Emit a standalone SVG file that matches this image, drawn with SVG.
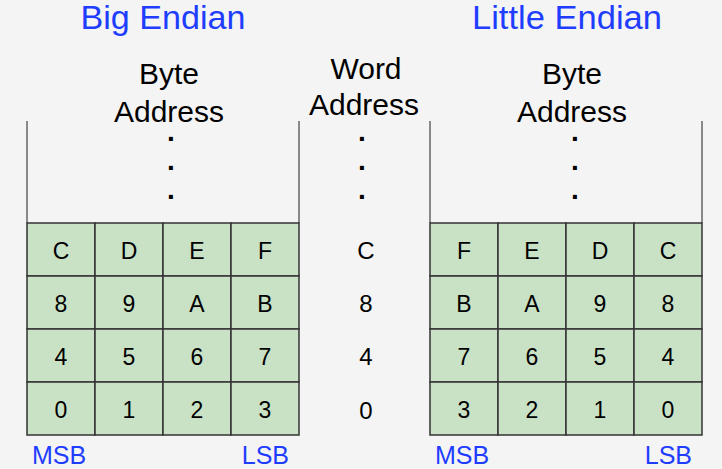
<svg xmlns="http://www.w3.org/2000/svg" width="722" height="469" viewBox="0 0 722 469">
  <style>
    text { font-family: "Liberation Sans", Arial, sans-serif; text-anchor: middle; }
    .title { font-size: 33px; fill: #1f3dff; }
    .head { font-size: 30px; fill: #000; }
    .dot { font-size: 28px; font-weight: bold; fill: #000; }
    .cell { font-size: 23px; fill: #000; }
    .word { font-size: 24px; fill: #000; }
    .bit { font-size: 25px; fill: #1f3dff; text-anchor: start; }
    .bitr { font-size: 25px; fill: #1f3dff; text-anchor: end; }
    .box { fill: #c9e2c6; stroke: #333; stroke-width: 1.5; }
    .side { stroke: #666; stroke-width: 1.5; fill: none; }
  </style>
  <rect width="722" height="469" fill="#f4f4f4"/>

  <!-- Big endian memory -->
  <g id="big-endian">
    <text class="title" x="163" y="29" textLength="165" lengthAdjust="spacingAndGlyphs">Big Endian</text>
    <text class="head" x="169" y="84">Byte</text>
    <text class="head" x="169" y="122">Address</text>
    <text class="dot" x="171" y="141">.</text>
    <text class="dot" x="171" y="170">.</text>
    <text class="dot" x="171" y="199">.</text>
    <path class="side" d="M27 121V223M299 121V223"/>
    <g>
      <rect class="box" x="27" y="223" width="68" height="53"/>
      <rect class="box" x="95" y="223" width="68" height="53"/>
      <rect class="box" x="163" y="223" width="68" height="53"/>
      <rect class="box" x="231" y="223" width="68" height="53"/>
      <rect class="box" x="27" y="276" width="68" height="53"/>
      <rect class="box" x="95" y="276" width="68" height="53"/>
      <rect class="box" x="163" y="276" width="68" height="53"/>
      <rect class="box" x="231" y="276" width="68" height="53"/>
      <rect class="box" x="27" y="329" width="68" height="53"/>
      <rect class="box" x="95" y="329" width="68" height="53"/>
      <rect class="box" x="163" y="329" width="68" height="53"/>
      <rect class="box" x="231" y="329" width="68" height="53"/>
      <rect class="box" x="27" y="382" width="68" height="53"/>
      <rect class="box" x="95" y="382" width="68" height="53"/>
      <rect class="box" x="163" y="382" width="68" height="53"/>
      <rect class="box" x="231" y="382" width="68" height="53"/>
    </g>
    <g>
      <text class="cell" x="61" y="259">C</text>
      <text class="cell" x="129" y="259">D</text>
      <text class="cell" x="197" y="259">E</text>
      <text class="cell" x="265" y="259">F</text>
      <text class="cell" x="61" y="312">8</text>
      <text class="cell" x="129" y="312">9</text>
      <text class="cell" x="197" y="312">A</text>
      <text class="cell" x="265" y="312">B</text>
      <text class="cell" x="61" y="365">4</text>
      <text class="cell" x="129" y="365">5</text>
      <text class="cell" x="197" y="365">6</text>
      <text class="cell" x="265" y="365">7</text>
      <text class="cell" x="61" y="418">0</text>
      <text class="cell" x="129" y="418">1</text>
      <text class="cell" x="197" y="418">2</text>
      <text class="cell" x="265" y="418">3</text>
    </g>
    <text class="bit" x="32" y="464">MSB</text>
    <text class="bitr" x="289" y="464">LSB</text>
  </g>

  <!-- Word addresses -->
  <g id="word-address">
    <text class="head" x="366" y="79">Word</text>
    <text class="head" x="364" y="115">Address</text>
    <text class="dot" x="362" y="141">.</text>
    <text class="dot" x="362" y="170">.</text>
    <text class="dot" x="362" y="199">.</text>
    <text class="word" x="366" y="259">C</text>
    <text class="word" x="366" y="312">8</text>
    <text class="word" x="366" y="365">4</text>
    <text class="word" x="366" y="419">0</text>
  </g>

  <!-- Little endian memory -->
  <g id="little-endian">
    <text class="title" x="567" y="29" textLength="190" lengthAdjust="spacingAndGlyphs">Little Endian</text>
    <text class="head" x="572" y="84">Byte</text>
    <text class="head" x="572" y="122">Address</text>
    <text class="dot" x="575" y="141">.</text>
    <text class="dot" x="575" y="170">.</text>
    <text class="dot" x="575" y="199">.</text>
    <path class="side" d="M430 121V223M702 121V223"/>
    <g>
      <rect class="box" x="430" y="223" width="68" height="53"/>
      <rect class="box" x="498" y="223" width="68" height="53"/>
      <rect class="box" x="566" y="223" width="68" height="53"/>
      <rect class="box" x="634" y="223" width="68" height="53"/>
      <rect class="box" x="430" y="276" width="68" height="53"/>
      <rect class="box" x="498" y="276" width="68" height="53"/>
      <rect class="box" x="566" y="276" width="68" height="53"/>
      <rect class="box" x="634" y="276" width="68" height="53"/>
      <rect class="box" x="430" y="329" width="68" height="53"/>
      <rect class="box" x="498" y="329" width="68" height="53"/>
      <rect class="box" x="566" y="329" width="68" height="53"/>
      <rect class="box" x="634" y="329" width="68" height="53"/>
      <rect class="box" x="430" y="382" width="68" height="53"/>
      <rect class="box" x="498" y="382" width="68" height="53"/>
      <rect class="box" x="566" y="382" width="68" height="53"/>
      <rect class="box" x="634" y="382" width="68" height="53"/>
    </g>
    <g>
      <text class="cell" x="464" y="259">F</text>
      <text class="cell" x="532" y="259">E</text>
      <text class="cell" x="600" y="259">D</text>
      <text class="cell" x="668" y="259">C</text>
      <text class="cell" x="464" y="312">B</text>
      <text class="cell" x="532" y="312">A</text>
      <text class="cell" x="600" y="312">9</text>
      <text class="cell" x="668" y="312">8</text>
      <text class="cell" x="464" y="365">7</text>
      <text class="cell" x="532" y="365">6</text>
      <text class="cell" x="600" y="365">5</text>
      <text class="cell" x="668" y="365">4</text>
      <text class="cell" x="464" y="418">3</text>
      <text class="cell" x="532" y="418">2</text>
      <text class="cell" x="600" y="418">1</text>
      <text class="cell" x="668" y="418">0</text>
    </g>
    <text class="bit" x="435" y="464">MSB</text>
    <text class="bitr" x="692" y="464">LSB</text>
  </g>
</svg>
